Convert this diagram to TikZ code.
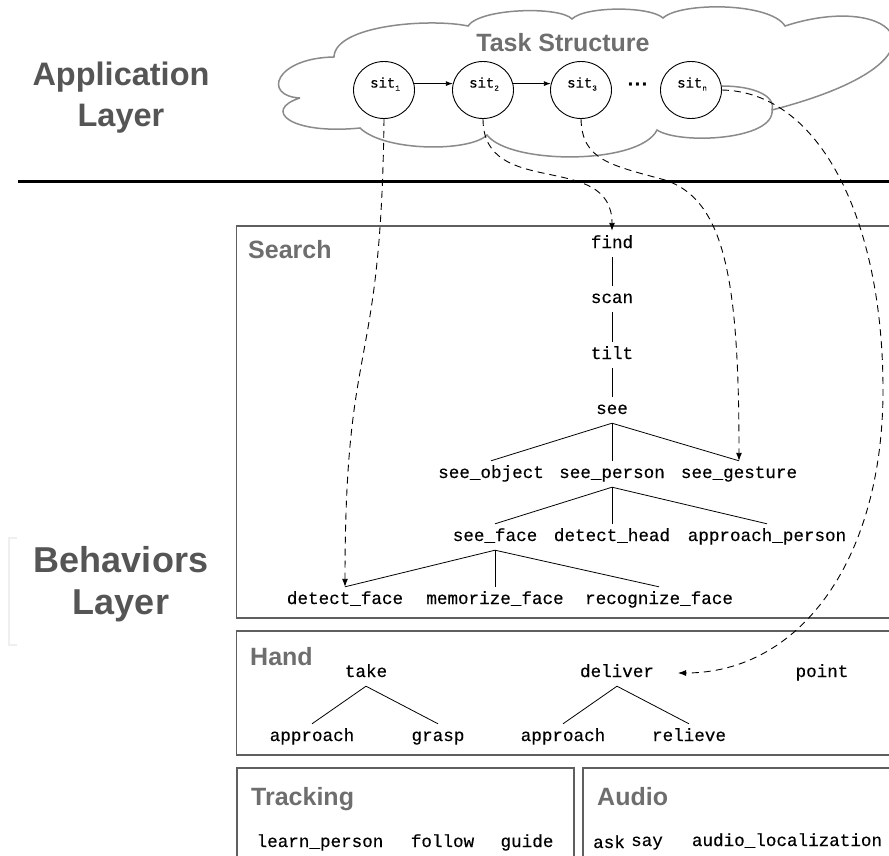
\documentclass[tikz,border=0pt]{standalone}
\usepackage{fontspec}
\setmainfont{Liberation Sans}
\newfontfamily\monof[FakeBold=0.3]{Liberation Mono}
\usetikzlibrary{arrows.meta,shapes.geometric,calc}
\definecolor{boxgray}{HTML}{5F5F5F}
\definecolor{titlegray}{HTML}{6E6E6E}
\definecolor{layergray}{HTML}{555555}
\definecolor{cloudgray}{HTML}{8A8A8A}
\definecolor{faint}{HTML}{EFEFEF}
\begin{document}
\begin{tikzpicture}[x=1pt,y=-1pt,
 beh/.style={font=\monof\fontsize{17.6}{20}\selectfont, inner sep=0pt, text height=12pt, text depth=4pt, minimum height=26pt},
 sec/.style={font=\fontsize{25}{30}\selectfont\bfseries, text=titlegray, inner sep=0pt, anchor=base west},
 layer/.style={text=layergray, align=center, inner sep=0pt},
 panel/.style={draw=boxgray, line width=1.6pt},
 tree/.style={line width=0.8pt},
 link/.style={line width=0.9pt, dash pattern=on 7pt off 5pt, -{Latex[length=8pt,width=6pt]}},
 seq/.style={line width=0.9pt, -{Latex[length=7pt,width=5pt]}},
 sitc/.style={ellipse, draw, line width=0.9pt, minimum width=61pt, minimum height=57pt, inner sep=0pt, fill=white},
 sitl/.style={font=\monof\fontsize{14}{14}\selectfont, inner sep=0pt},
 cloudline/.style={draw=cloudgray, line width=1.5pt}
]
\useasboundingbox (0,0) rectangle (889,856);
\clip (0,0) rectangle (889,856);

% layer titles
\node[layer, font=\fontsize{32.5}{41}\selectfont\bfseries] (applayer) at (121,98) {Application\\Layer};
\node[layer, font=\fontsize{36}{42}\selectfont\bfseries] (behlayer) at (121,584) {Behaviors\\Layer};
\draw[faint, line width=2.5pt] (17,538) -- (9,538) -- (9,645) -- (17,645);
\draw[line width=3pt] (18,181) -- (889,181);

% cloud
\draw[cloudline] (300,98) .. controls (262,96) and (275,58) .. (334,57)
 .. controls (335,25) and (430,18) .. (468,26)
 .. controls (480,8) and (560,6) .. (572,19)
 .. controls (585,6) and (650,6) .. (663,18)
 .. controls (680,2) and (770,2) .. (785,26)
 .. controls (895,-10) and (965,60) .. (772,110)
 .. controls (775,140) and (680,145) .. (657,130)
 .. controls (640,165) and (510,165) .. (487,135)
 .. controls (470,152) and (385,152) .. (360,128)
 .. controls (290,135) and (262,110) .. (300,98);
\draw[cloudline] (772,110) .. controls (776,95) and (752,86) .. (722,86);
\node[font=\fontsize{25}{30}\selectfont\bfseries, text=titlegray, inner sep=0pt] (task) at (563,43) {Task Structure};

% situations
\node[sitc] (sit1) at (384,90) {};
\node[sitc] (sit2) at (483,90) {};
\node[sitc] (sit3) at (581,90) {};
\node[sitc] (sitn) at (691,90) {};
\node[sitl] (l1) at (385,84) {sit\raisebox{-3pt}{\fontsize{7.5}{7.5}\selectfont 1}};
\node[sitl] (l2) at (484,84) {sit\raisebox{-3pt}{\fontsize{7.5}{7.5}\selectfont 2}};
\node[sitl] (l3) at (582,84) {sit\raisebox{-3pt}{\fontsize{7.5}{7.5}\selectfont 3}};
\node[sitl] (ln) at (692,84) {sit\raisebox{-3pt}{\fontsize{7.5}{7.5}\selectfont n}};
\node[font=\fontsize{21}{21}\selectfont\bfseries, inner sep=0pt] (dots) at (638,87) {···};
\draw[seq] (sit1.12) -- (sit2.168);
\draw[seq] (sit2.12) -- (sit3.168);

% panels
\draw[panel] (236.5,226) rectangle (900,618);
\draw[panel] (236.5,631) rectangle (900,755);
\draw[panel] (237,768) rectangle (574,870);
\draw[panel] (583,768) rectangle (900,870);
\node[sec] (search) at (248,258) {Search};
\node[sec] (hand) at (250,665) {Hand};
\node[sec] (tracking) at (251,805) {Tracking};
\node[sec] (audio) at (597,805) {Audio};

% search tree
\node[beh] (find) at (612,244) {find};
\node[beh] (scan) at (612,299) {scan};
\node[beh] (tilt) at (612,355) {tilt};
\node[beh] (see) at (612,410) {see};
\node[beh] (seeobject) at (491,474) {see\_object};
\node[beh] (seeperson) at (612,474) {see\_person};
\node[beh] (seegesture) at (739,474) {see\_gesture};
\node[beh] (seeface) at (495,537) {see\_face};
\node[beh] (detecthead) at (612,537) {detect\_head};
\node[beh] (approachperson) at (767,537) {approach\_person};
\node[beh] (detectface) at (345,600) {detect\_face};
\node[beh] (memorizeface) at (495,600) {memorize\_face};
\node[beh] (recognizeface) at (659,600) {recognize\_face};
\draw[tree] (find) -- (scan);
\draw[tree] (scan) -- (tilt);
\draw[tree] (tilt) -- (see);
\draw[tree] (see.south) -- (seeobject.north);
\draw[tree] (see.south) -- (seeperson.north);
\draw[tree] (see.south) -- (seegesture.north);
\draw[tree] (seeperson.south) -- (seeface.north);
\draw[tree] (seeperson.south) -- (detecthead.north);
\draw[tree] (seeperson.south) -- (approachperson.north);
\draw[tree] (seeface.south) -- (detectface.north);
\draw[tree] (seeface.south) -- (memorizeface.north);
\draw[tree] (seeface.south) -- (recognizeface.north);

% hand
\node[beh] (take) at (366,673) {take};
\node[beh] (deliver) at (617,673) {deliver};
\node[beh] (point) at (822,673) {point};
\node[beh] (approachA) at (312,737) {approach};
\node[beh] (grasp) at (438,737) {grasp};
\node[beh] (approachB) at (563,737) {approach};
\node[beh] (relieve) at (689,737) {relieve};
\draw[tree] (take.south) -- (approachA.north);
\draw[tree] (take.south) -- (grasp.north);
\draw[tree] (deliver.south) -- (approachB.north);
\draw[tree] (deliver.south) -- (relieve.north);
\coordinate (delivertip) at (678,673);

% tracking / audio
\node[beh] (learnperson) at (320,843) {learn\_person};
\node[beh] (follow) at (442.5,843) {follow};
\node[beh] (guide) at (527,843) {guide};
\node[beh] (ask) at (609,844) {ask};
\node[beh] (say) at (647,842) {say};
\node[beh] (audioloc) at (787,842) {audio\_localization};

% links
\draw[link] (sit1.south) .. controls (381,380) and (345,330) .. (detectface.north);
\draw[link] (sit2.south) .. controls (483,200) and (612,150) .. (find.north);
\draw[link] (sit3.south) .. controls (582,160) and (610,165) .. (665,180)
  .. controls (725,200) and (739,280) .. (seegesture.north);
\draw[link] (sitn.east) .. controls (820,92) and (883,220) .. (883,390)
  .. controls (883,560) and (800,673) .. (delivertip);
\end{tikzpicture}
\end{document}
